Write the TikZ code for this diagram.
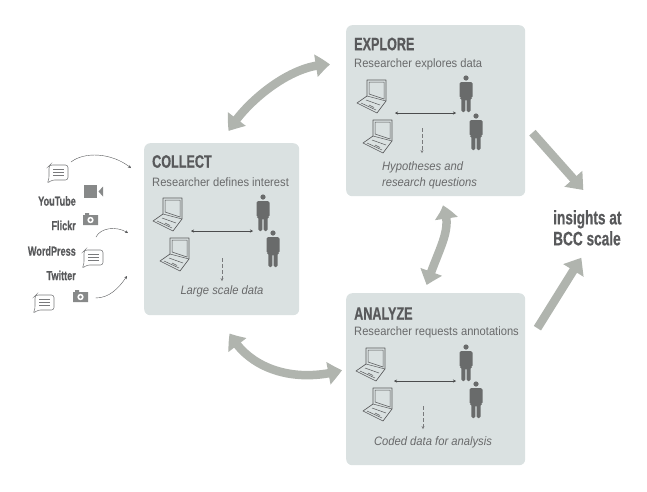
\documentclass[tikz,border=0pt]{standalone}
\usepackage{fontspec}
\setmainfont{Liberation Sans}
\newfontfamily\condfont[FakeStretch=0.70,BoldFeatures={FakeBold=0.6}]{Liberation Sans}
\newfontfamily\bodyfont[FakeStretch=0.92]{Liberation Sans}
\usetikzlibrary{positioning,arrows.meta,calc,bending}
\definecolor{boxgrey}{HTML}{DAE1E1}
\definecolor{flowgrey}{HTML}{B0B4AE}
\definecolor{inkgrey}{HTML}{58595B}
\definecolor{mangrey}{HTML}{696B6B}

\begin{document}
\begin{tikzpicture}[
  x=1pt,y=-1pt,
  >={Stealth[length=3pt,width=3pt]},
  stage/.style={fill=boxgrey,rounded corners=6pt,inner sep=0pt,anchor=north west},
  title/.style={font=\condfont\bfseries\fontsize{18}{20}\selectfont,text=inkgrey,anchor=west,inner sep=0pt},
  sub/.style={font=\bodyfont\fontsize{12.15}{13}\selectfont,text=inkgrey!90,anchor=west,inner sep=0pt},
  result/.style={font=\bodyfont\itshape\fontsize{12.2}{16}\selectfont,text=inkgrey!90,inner sep=0pt},
  source/.style={font=\condfont\bfseries\fontsize{13}{14}\selectfont,text=inkgrey,anchor=east,inner sep=0pt},
  big/.style={<->,>={Triangle[length=14pt,width=22pt,bend]},line width=8.5pt,flowgrey},
  outflow/.style={->,>={Triangle[length=15pt,width=23pt]},line width=8.5pt,flowgrey},
  talk/.style={<->,thin,inkgrey!85!black},
  feed/.style={->,thin,dash pattern=on 4pt off 2pt,inkgrey!80},
  web/.style={->,thin,inkgrey},
  pics/laptop/.style={code={
    \draw[inkgrey,line width=.65pt,fill=boxgrey,line join=round]
      (0,16)--(0,0)--(19,0)--(19,21)--(10,33)--(-10,23)--cycle;
    \draw[inkgrey,line width=.5pt] (2,2)--(17,2)--(17,19)--(2,14)--cycle
      (0,16)--(19,21) (-6,23)--(9,30) (-1,20)--(13,25) (2,25)--(7,27.5);
    \coordinate (-e) at (28,33);
  }},
  pics/worker/.style={code={
    \fill[mangrey] (0,0) circle (2.6);
    \fill[mangrey,rounded corners=1.5pt] (-6.5,4)--(6.5,4)--(6.5,20)--(4.6,20)--(4.6,34)--(.6,34)--(.6,21)
      --(-.6,21)--(-.6,34)--(-4.6,34)--(-4.6,20)--(-6.5,20)--cycle;
    \coordinate (-w) at (-10,34);
  }},
  pics/bubble/.style={code={
    \draw[inkgrey!80,line width=.55pt,fill=white,rounded corners=2.5pt]
      (2,0)--(20,0)--(20,15)--(4,15)--(-1,18.5)--(1,14)--(1,1)--cycle;
    \draw[inkgrey!80,line width=.55pt] (5,4.5)--(16,4.5) (5,7.5)--(16,7.5) (5,10.5)--(16,10.5);
    \coordinate (-c) at (10,8);
  }},
  pics/camera/.style={code={
    \fill[mangrey!80] (0,2)--(2,2)--(2,0)--(6,0)--(6,2)--(15,2)--(15,12)--(0,12)--cycle;
    \fill[white] (7.5,7) circle (3.2);
    \fill[mangrey!80] (7.5,7) circle (1.7);
    \coordinate (-c) at (7.5,7);
  }},
  pics/video/.style={code={
    \fill[mangrey!80] (0,0) rectangle (13,13);
    \fill[mangrey!80] (14.5,6.5)--(19,1.5)--(19,11.5)--cycle;
    \coordinate (-c) at (9,6.5);
  }},
]
\useasboundingbox (0,0) rectangle (647,491);

% stages
\node[stage,minimum width=155pt,minimum height=172pt] (collect) at (144,143) {};
\node[stage,minimum width=179pt,minimum height=171pt] (explore) at (346,25) {};
\node[stage,minimum width=179pt,minimum height=172pt] (analyze) at (346,293) {};

\node[title] (collecttitle) at (152,161.5) {COLLECT};
\node[sub] (collectsub) at (152,182) {Researcher defines interest};
\node[title] (exploretitle) at (354,44) {EXPLORE};
\node[sub] (exploresub) at (354,64.5) {Researcher explores data};
\node[title] (analyzetitle) at (354,313.5) {ANALYZE};
\node[sub] (analyzesub) at (354,332.5) {Researcher requests annotations};

% laptops and people in each stage
\foreach \nm/\xa/\ya/\xb/\yb/\xc/\yc/\xd/\yd in {
  collect/163/198/170/238/263/197/273/233,
  explore/367/80/373/120/466/78/476/116,
  analyze/366/348/373/388/466/347/476/384}{
  \pic (\nm lap) at (\xa,\ya) {laptop};
  \pic (\nm laptwo) at (\xb,\yb) {laptop};
  \pic (\nm man) at (\xc,\yc) {worker};
  \pic (\nm mantwo) at (\xd,\yd) {worker};
  \draw[talk] (\nm lap-e) -- (\nm lap-e -| \nm man-w);
}

\node[result] (collectdata) at (222,291) {Large scale data};
\node[result,align=left] (exploredata) at (429.5,175) {Hypotheses and\\research questions};
\node[result] (analyzedata) at (433,442) {Coded data for analysis};
\draw[feed] ($(collectdata.north)+(0,-27)$) -- ($(collectdata.north)+(0,-4)$);
\draw[feed] ($(exploredata.north)+(-7.5,-33)$) -- ($(exploredata.north)+(-7.5,-8)$);
\draw[feed] ($(analyzedata.north)+(-10,-30)$) -- ($(analyzedata.north)+(-10,-7)$);

% big arrows
\draw[big] ($(collect.north)+(7,-12)$) .. controls +(16,-28) and +(-38,-2) .. ($(explore.west)+(-16,-46)$);
\draw[big] ($(collect.south)+(8,18)$) .. controls +(18,34) and +(-50,14) .. ($(analyze.west)+(-4,-9)$);
\draw[big] ($(explore.south)+(7,9)$) .. controls +(11,24) and +(12,-38) .. ($(analyze.north)+(-9,-8)$);

\node[font=\condfont\bfseries\fontsize{19.5}{21}\selectfont,text=inkgrey,align=left,anchor=north west,inner sep=0pt] (insights) at (553,210) {insights at\\BCC scale};
\draw[outflow] ($(explore.east)+(7,22)$) -- ($(insights.north)+(-4,-20)$);
\draw[outflow] ($(analyze.east)+(12,-51)$) -- ($(insights.south)+(-6,12)$);

% sources
\node[source] (youtube) at (76,201) {YouTube};
\node[source] (flickr) at (76,225.5) {Flickr};
\node[source] (wordpress) at (76,251) {WordPress};
\node[source] (twitter) at (76,275.5) {Twitter};

\pic (bubblea) at (48,165) {bubble};
\pic (bubbleb) at (83,250) {bubble};
\pic (bubblec) at (34,295) {bubble};
\pic (videoa) at (84,185) {video};
\pic (cama) at (83,213) {camera};
\pic (camb) at (73,290) {camera};

\coordinate (ina) at (131,168);
\coordinate (inb) at (128,233);
\coordinate (inc) at (127,276);
\draw[web] ($(bubblea-c)+(13,-11)$) .. controls +(14,-11) and +(-18,-15) .. (ina);
\draw[web] ($(bubbleb-c)+(3,-21)$) .. controls +(5,-10) and +(-10,-7) .. (inb);
\draw[web] ($(camb-c)+(15,1)$) .. controls +(14,0) and +(-8,12) .. (inc);
\end{tikzpicture}
\end{document}
